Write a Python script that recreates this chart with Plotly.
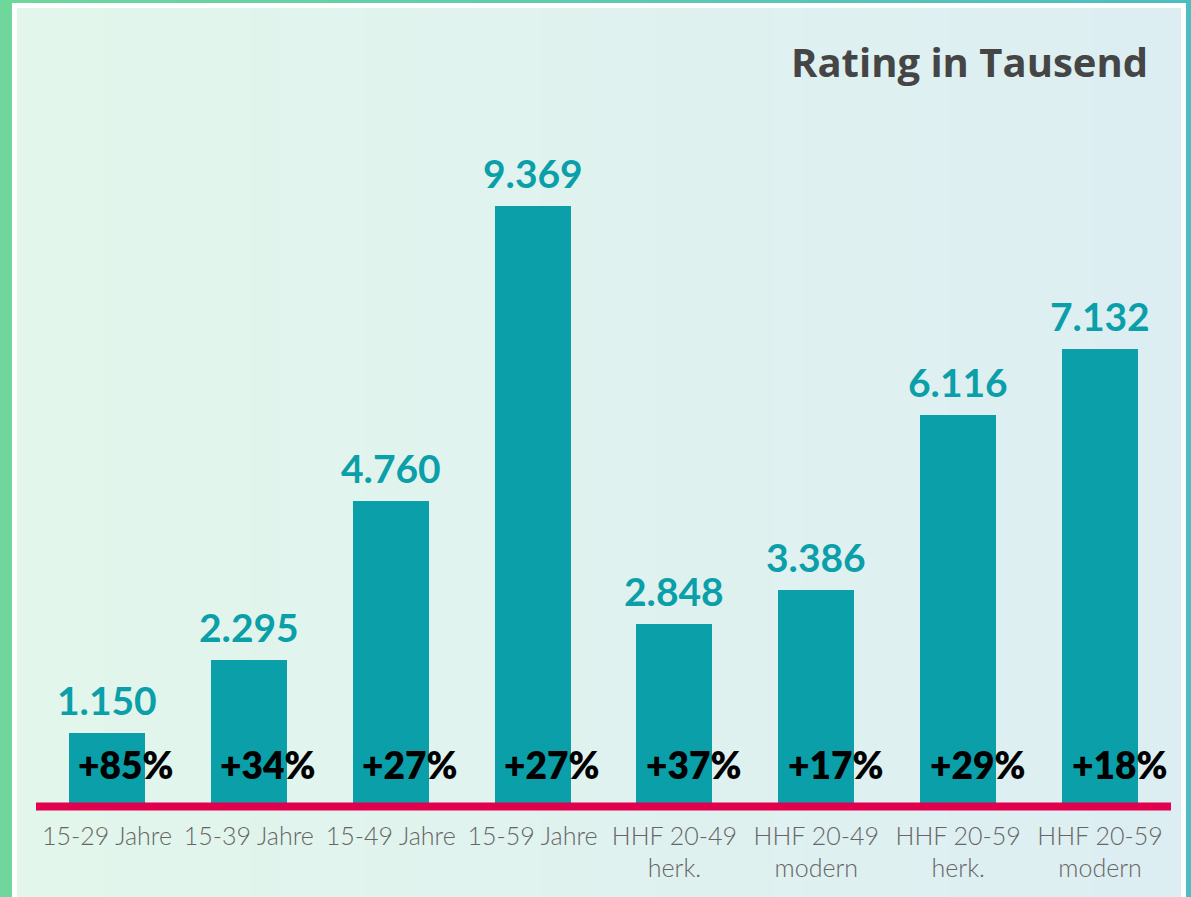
import plotly.graph_objects as go

# ---- data ----
categories = ["15-29 Jahre", "15-39 Jahre", "15-49 Jahre", "15-59 Jahre",
              "HHF 20-49<br>herk.", "HHF 20-49<br>modern",
              "HHF 20-59<br>herk.", "HHF 20-59<br>modern"]
ratings = [1150, 2295, 4760, 9369, 2848, 3386, 6116, 7132]
value_labels = ["1.150", "2.295", "4.760", "9.369", "2.848", "3.386", "6.116", "7.132"]
change_labels = ["+85%", "+34%", "+27%", "+27%", "+37%", "+17%", "+29%", "+18%"]
title_text = "Rating in Tausend"

W, H = 1191, 897
BAR = "#0A9FA9"
RED = "#E0004D"


def px(x):
    return x / W


def py(y):
    return 1 - y / H


def lerp(c1, c2, t):
    a = [int(c1[i:i + 2], 16) for i in (1, 3, 5)]
    b = [int(c2[i:i + 2], 16) for i in (1, 3, 5)]
    return "#%02x%02x%02x" % tuple(round(a[k] + (b[k] - a[k]) * t) for k in range(3))


shapes = []
# outer gradient border
N = 40
for i in range(N):
    x0 = W * i / N
    x1 = W * (i + 1) / N + 1
    shapes.append(dict(type="rect", xref="paper", yref="paper", layer="below",
                       x0=px(x0), x1=px(x1), y0=0, y1=1,
                       fillcolor=lerp("#6FD69C", "#4CBEC2", i / (N - 1)), line_width=0))
# white frame
shapes.append(dict(type="rect", xref="paper", yref="paper", layer="below",
                   x0=px(12), x1=px(1186), y0=0, y1=py(3),
                   fillcolor="#FFFFFF", line_width=0))
# inner gradient panel
L, R = 17, 1181
for i in range(N):
    x0 = L + (R - L) * i / N
    x1 = L + (R - L) * (i + 1) / N + (1 if i < N - 1 else 0)
    shapes.append(dict(type="rect", xref="paper", yref="paper", layer="below",
                       x0=px(x0), x1=px(x1), y0=0, y1=py(8),
                       fillcolor=lerp("#E2F6EB", "#DDEEF2", i / (N - 1)), line_width=0))
# red baseline
shapes.append(dict(type="rect", xref="paper", yref="paper", layer="above",
                   x0=px(36), x1=px(1171), y0=py(810.5), y1=py(802.5),
                   fillcolor=RED, line_width=0))

fig = go.Figure()
fig.add_trace(go.Bar(x=categories, y=ratings, width=0.535,
                     marker=dict(color=BAR, line_width=0), hoverinfo="skip"))

annotations = []
for c, v, lab, ch in zip(categories, ratings, value_labels, change_labels):
    annotations.append(dict(x=c, y=v, xref="x", yref="y", text=lab, showarrow=False,
                            yanchor="bottom", yshift=8,
                            font=dict(family="Lato", size=39, color=BAR, weight=700)))
    annotations.append(dict(x=c, y=0, xref="x", yref="y", text=ch, showarrow=False,
                            yanchor="middle", yshift=42, xshift=19,
                            font=dict(family="Lato", size=37, color="#000000", weight=800)))
annotations.append(dict(x=px(1150), y=py(62), xref="paper", yref="paper", text=title_text,
                        showarrow=False, xanchor="right", yanchor="middle",
                        font=dict(family="Open Sans", size=40, color="#454545", weight=700)))

zero_y = 806.7
top_y = 100
k = 0.06412
fig.update_layout(
    width=W, height=H,
    margin=dict(l=0, r=0, t=0, b=0),
    paper_bgcolor="#FFFFFF", plot_bgcolor="rgba(0,0,0,0)",
    showlegend=False,
    shapes=shapes, annotations=annotations,
    bargap=0,
    xaxis=dict(domain=[px(36), px(1171)], range=[-0.5, len(categories) - 0.5],
               showgrid=False, zeroline=False, showline=False, ticks="",
               tickfont=dict(family="Lato", size=25, color="#666666", weight=300),
               ticklabelstandoff=12),
    yaxis=dict(domain=[py(zero_y), py(top_y)], range=[0, (zero_y - top_y) / k],
               visible=False, showgrid=False, zeroline=False),
)

fig.write_html("out.html", config={"displayModeBar": False},
               post_script="document.body.style.margin='0';document.body.style.overflow='hidden';")
